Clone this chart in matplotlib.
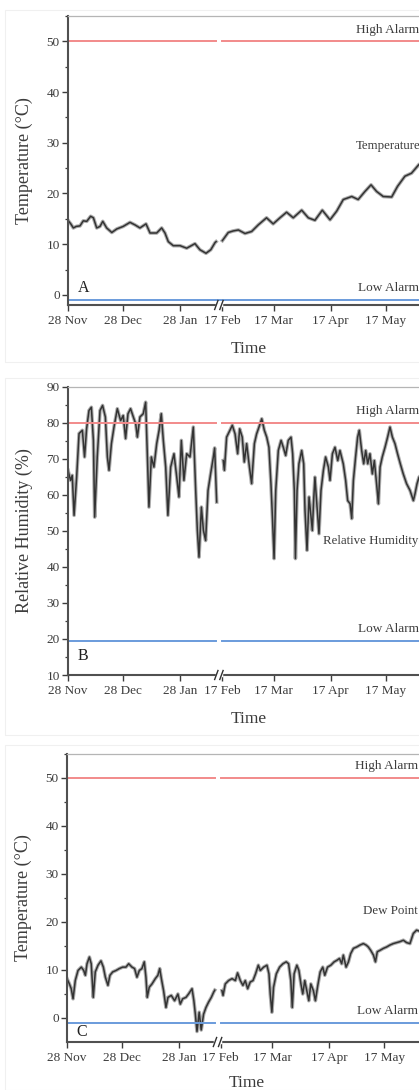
import matplotlib.pyplot as plt
from matplotlib.patches import Rectangle

plt.rcParams['font.family'] = ['Liberation Serif', 'DejaVu Serif']

# days counted from 28 Nov; the right block starts on 17 Feb (day 81)
BREAK_DAY = 81
GAP = 2.7  # extra room the axis break takes, in days
XMAX = 196

tick_days = [0, 30, 61, 81, 109, 140, 170]
tick_labels = ['28 Nov', '28 Dec', '28 Jan', '17 Feb', '17 Mar', '17 Apr', '17 May']

# A - temperature
temp_day_l = [0, 1.5, 2.9, 4.5, 6.5, 8.3, 10.2, 12.3, 13.8, 15.6, 17.4, 18.9, 21, 23.8,
              26.5, 30, 33.7, 36.4, 39.1, 42.4, 44.6, 48.2, 50.9, 52.7, 54.5, 57.2,
              60.9, 64.5, 69, 71.7, 75, 77.6, 79.9, 80.5]
temp_val_l = [14.7, 14.0, 13.2, 13.5, 13.6, 14.6, 14.5, 15.5, 15.2, 13.2, 13.5, 14.5, 13.2, 12.3,
              13.0, 13.5, 14.3, 13.8, 13.2, 14.0, 12.2, 12.2, 13.2, 12.2, 10.5, 9.7,
              9.7, 9.2, 10.1, 8.9, 8.2, 8.9, 10.3, 10.5]
temp_day_r = [81.2, 84.4, 87, 89.9, 93.5, 97.1, 100.7, 105.2, 108.8, 112.5, 116.1, 119.7,
              124.3, 127.9, 131.5, 135.5, 139.7, 143.3, 146.9, 151.5, 155, 158.7, 162,
              165, 168.6, 173.2, 176.4, 180.4, 184, 188, 192]
temp_val_r = [10.7, 12.3, 12.6, 12.8, 12.1, 12.5, 13.8, 15.2, 14.0, 15.2, 16.3, 15.2,
              16.7, 15.2, 14.7, 16.7, 14.8, 16.5, 18.8, 19.4, 18.8, 20.4, 21.7,
              20.4, 19.4, 19.3, 21.4, 23.4, 24.0, 25.7, 26.5]

# B - relative humidity
rh_day_l = [0, 1.4, 2.3, 3.3, 4.7, 6, 7.8, 9, 10.1, 11.4, 12.7, 13.8, 14.5, 15.9, 17.4,
            18.8, 20.3, 21.4, 22.3, 23.6, 25, 26.8, 28.6, 30, 31.3, 32.6, 34, 35.5, 36.8,
            37.7, 39.1, 40.9, 42.2, 43.1, 44, 45.3, 46.7, 48.2, 49.5, 50.7, 51.8, 53.1,
            54.3, 55.8, 57.6, 59.1, 60.3, 61.6, 63, 64.5, 66.3, 68.1, 69.4, 70.3, 71.2,
            72.5, 73.6, 74.8, 76.1, 77.5, 79, 79.7, 80.8]
rh_val_l = [66.8, 64.0, 65.4, 54.3, 64.9, 77.0, 77.9, 70.5, 78.3, 83.4, 84.3, 75.1, 53.8,
            70.5, 83.4, 84.8, 81.6, 70.5, 66.8, 74.2, 78.8, 83.9, 80.6, 82.0, 75.6, 82.5,
            83.9, 81.6, 79.7, 76.0, 81.6, 82.5, 85.7, 71.4, 56.6, 70.5, 67.7, 74.2, 77.9,
            82.5, 75.1, 67.7, 54.3, 67.7, 71.4, 64.9, 59.4, 75.1, 64.0, 71.4, 70.5, 78.8,
            61.2, 50.1, 42.7, 56.6, 50.1, 47.3, 61.2, 65.8, 70.5, 73.0, 58.0]
rh_day_r = [81.7, 82.3, 83.5, 85.3, 86.6, 88.1, 89.5, 90.6, 92, 93.1, 94.4, 95.9, 97.1,
            98.6, 99.8, 101.1, 102.6, 104, 105.3, 106.5, 107.6, 108.4, 109.3, 110.2,
            111.6, 113.1, 114.3, 115.6, 117, 118.5, 119.4, 120.3, 120.9, 121.8, 122.8,
            124.3, 125.4, 126.1, 127.2, 128.3, 129.4, 130.1, 130.8, 131.5, 132.4, 133.7,
            134.8, 136.1, 137.3, 138.8, 139.7, 141, 142.4, 143.9, 145.1, 146.9, 148.2,
            149.3, 150.6, 151.5, 152.4, 153.6, 154.7, 155.6, 156.9, 158, 159.1, 160.2,
            161.4, 162.7, 163.8, 165, 166, 166.9, 168.1, 169.6, 171, 172.3, 173.6, 175,
            176.4, 177.9, 179.5, 181.3, 183.2, 185, 185.9, 187, 188.1, 192]
rh_val_r = [69.5, 66.8, 76.0, 77.9, 79.3, 76.9, 71.4, 78.3, 76.0, 69.1, 74.2, 67.7, 63.1,
            74.2, 76.9, 78.8, 81.1, 77.9, 76.0, 73.2, 63.1, 53.8, 42.3, 61.2,
            72.3, 75.1, 73.2, 70.9, 75.1, 76.0, 71.4, 61.2, 42.3, 61.2, 68.6,
            72.3, 68.6, 55.7, 44.6, 59.4, 53.8, 50.1, 58.4, 64.9, 58.4, 49.2,
            61.2, 66.8, 70.5, 67.7, 64.0, 71.4, 73.2, 69.5, 72.3, 68.6, 64.0,
            58.4, 57.5, 53.4, 64.0, 70.5, 76.0, 77.9, 72.3, 68.6, 72.3, 68.6,
            71.4, 65.8, 69.5, 63.1, 57.5, 67.7, 70.5, 73.2, 76.0, 78.8, 76.0, 74.2,
            71.4, 68.6, 65.8, 63.1, 61.2, 58.4, 60.3, 63.1, 64.9, 67.0]

# C - dew point
dp_day_l = [0, 1.3, 2.3, 3.3, 4.5, 6, 7.8, 9.1, 10, 10.9, 12.2, 13.2, 14.3, 15.4, 16.9,
            18.5, 19.8, 20.9, 22.3, 23.4, 24.9, 26.7, 28.5, 30.3, 32.1, 33.6, 35.4, 36.8,
            38.1, 39.4, 40.8, 42.1, 43, 43.7, 44.8, 46.3, 48.1, 49.5, 50.5, 51.4, 52.6,
            53.9, 55, 56.8, 58.6, 60.4, 61.7, 63, 64.8, 66.2, 68.1, 69.1, 69.9, 70.8, 72,
            73.1, 74.4, 75.7, 77.1, 78.6, 79.9, 80.5]
dp_val_l = [8.2, 7.1, 6.1, 4.0, 7.8, 9.9, 10.6, 9.9, 8.9, 11.3, 12.7, 11.3, 4.3, 9.6, 11.0,
            11.9, 10.6, 8.5, 6.8, 8.9, 9.6, 9.9, 10.3, 10.6, 10.6, 11.3, 10.6, 10.3,
            8.5, 9.9, 10.3, 11.7, 8.5, 4.3, 6.4, 7.1, 8.2, 8.9, 10.3, 8.2, 5.7,
            2.2, 4.3, 4.7, 3.6, 5.0, 2.9, 4.0, 4.3, 5.0, 6.1, 3.6, 0.8, -2.8, 1.2,
            -2.5, 0.8, 2.2, 3.3, 4.3, 5.4, 5.8]
dp_day_r = [81.7, 82.3, 83.5, 85.3, 87.2, 89, 90.2, 91.7, 93.1, 94.4, 95.7, 97.1, 98.6,
            100, 101.5, 102.6, 104.4, 106.2, 107.3, 108, 108.9, 109.8, 111.3, 113.1,
            114.9, 116.7, 118, 119.2, 120, 121, 122.5, 123.6, 124.7, 125.7, 126.8, 127.9,
            129, 130.1, 131.5, 132.6, 133.9, 135.2, 136.6, 137.7, 139.2, 141, 142.8,
            144.2, 145.7, 146.9, 147.8, 149.3, 150.6, 151.8, 153.3, 155.1, 156.9, 158.7,
            160.2, 161.4, 162.7, 164.2, 165.3, 166.3, 167.8, 169.6, 171.4, 173.2, 175,
            176.8, 178.6, 180.5, 182.3, 184.1, 185.9, 187.7, 189.9, 192]
dp_val_r = [5.7, 4.7, 7.1, 7.8, 8.2, 7.8, 9.4, 7.8, 6.8, 7.8, 6.1, 7.5, 7.8,
            9.2, 11.0, 9.9, 10.6, 11.0, 9.2, 5.0, 1.2, 6.4, 9.2, 10.6,
            11.3, 11.7, 11.3, 7.8, 2.2, 9.2, 11.0, 9.9, 7.1, 5.0, 7.8, 5.7,
            3.6, 7.1, 5.7, 3.6, 6.8, 9.6, 10.6, 8.9, 10.6, 11.0, 11.7,
            12.0, 12.4, 11.3, 13.1, 10.6, 11.7, 13.4, 14.5, 14.8, 15.2, 15.5,
            15.2, 14.8, 14.1, 13.1, 11.7, 13.8, 14.1, 14.5, 14.8, 15.2, 15.5,
            15.7, 15.9, 16.2, 15.7, 15.5, 17.6, 18.3, 18.0, 18.6]

TEXT = '#3c3c3c'
LINE = '#333333'
HIGH = '#f28a8a'
LOW = '#6a9bdc'


def shift(days):
    return [d + GAP if d >= BREAK_DAY else d for d in days]


fig = plt.figure(figsize=(4.19, 10.9), dpi=100)

# faint frames around the three panels
for y0, y1 in [(10, 362), (378, 735), (745, 1090)]:
    fig.patches.append(Rectangle((5 / 419, 1 - y1 / 1090), 1.0, (y1 - y0) / 1090,
                                 transform=fig.transFigure, fill=False,
                                 edgecolor='#f0f0f0', lw=0.8))


def panel(rect, ylim, yticks, ylabel, letter, name, name_pos,
          high, low, left, right, lab_y, low_gap=True):
    ax = fig.add_axes(rect)
    for days, vals in (left, (shift(right[0]), right[1])):
        # soft wide band under a dark core, like the noisy logger trace
        ax.plot(days, vals, color='#6a6a6a', lw=2.6, alpha=0.55, solid_joinstyle='round')
        ax.plot(days, vals, color=LINE, lw=1.1)
    gap_l, gap_r = 80.5, BREAK_DAY + GAP
    ax.plot([0, gap_l], [high, high], color=HIGH, lw=1.4)
    ax.plot([gap_r, XMAX], [high, high], color=HIGH, lw=1.4)
    if low_gap:
        ax.plot([0, gap_l], [low, low], color=LOW, lw=1.4)
        ax.plot([gap_r, XMAX], [low, low], color=LOW, lw=1.4)
    else:
        ax.plot([0, XMAX], [low, low], color=LOW, lw=1.4)

    step = yticks[1] - yticks[0]
    minors = [t + step / 2 for t in yticks if ylim[0] <= t + step / 2 <= ylim[1]]
    ax.set_yticks(yticks)
    ax.set_yticks(minors, minor=True)
    ax.set_xticks(shift(tick_days))
    ax.set_xticklabels(tick_labels)
    ax.set_xlim(0, XMAX)
    ax.set_ylim(*ylim)
    ax.tick_params(axis='both', direction='out', colors=TEXT, labelsize=9.5,
                   length=4, width=1.0)
    ax.tick_params(axis='y', which='minor', length=2.5, width=0.9, colors=TEXT)
    ax.tick_params(axis='x', pad=3)
    ax.tick_params(axis='y', pad=2)

    ax.spines['right'].set_visible(False)
    ax.spines['top'].set_color('#b5b5b5')
    ax.spines['top'].set_linewidth(0.9)
    for s in ('left', 'bottom'):
        ax.spines[s].set_color('#505050')
        ax.spines[s].set_linewidth(1.5)

    # axis break marks
    trans = ax.get_xaxis_transform()
    h = 4.5 / (rect[3] * 1090)
    ax.plot([80.8, 83.4], [0, 0], color='white', lw=2.5, transform=trans,
            clip_on=False, zorder=5)
    for xb in (80.6, 83.4):
        ax.plot([xb - 0.9, xb + 0.9], [-h, h], color='#303030', lw=1.0,
                transform=trans, clip_on=False, zorder=6)

    ax.set_ylabel(ylabel, fontsize=13, color=TEXT)
    ax.yaxis.set_label_coords(-35 / (rect[2] * 419), 0.5)
    ax.set_xlabel('Time', fontsize=12.5, color=TEXT)
    ax.xaxis.set_label_coords(0.5, lab_y)

    off = (ylim[1] - ylim[0]) * 0.02
    ax.text(191, high + off, 'High Alarm', ha='right', va='bottom', fontsize=9.5,
            color=TEXT)
    ax.text(191, low + off, 'Low Alarm', ha='right', va='bottom', fontsize=9.5,
            color=TEXT)
    ax.text(name_pos[0], name_pos[1], name, ha=name_pos[2], va='center',
            fontsize=9.3, color=TEXT)
    ax.text(0.026, letter[1], letter[0], transform=ax.transAxes, fontsize=11.5,
            color='#202020', va='center')
    return ax


panel([68 / 419, 1 - 305 / 1090, 1.84 * XMAX / 419, 289 / 1090], (-2, 55),
      [0, 10, 20, 30, 40, 50], 'Temperature (°C)', ('A', 0.06),
      'Temperature', (191.5, 29.3, 'right'),
      50, -1, (temp_day_l, temp_val_l), (temp_day_r, temp_val_r), -0.125,
      low_gap=False)
panel([68 / 419, 1 - 675 / 1090, 1.84 * XMAX / 419, 288.3 / 1090], (10, 90),
      [10, 20, 30, 40, 50, 60, 70, 80, 90], 'Relative Humidity (%)', ('B', 0.065),
      'Relative Humidity', (138.5, 47.2, 'left'), 80, 19.5,
      (rh_day_l, rh_val_l), (rh_day_r, rh_val_r), -0.125)
panel([67 / 419, 1 - 1042 / 1090, 1.836 * XMAX / 419, 288 / 1090], (-5, 55),
      [0, 10, 20, 30, 40, 50], 'Temperature (°C)', ('C', 0.034),
      'Dew Point', (191, 22.2, 'right'),
      50, -1, (dp_day_l, dp_val_l), (dp_day_r, dp_val_r), -0.115)

fig.savefig('out.png', dpi=100)
